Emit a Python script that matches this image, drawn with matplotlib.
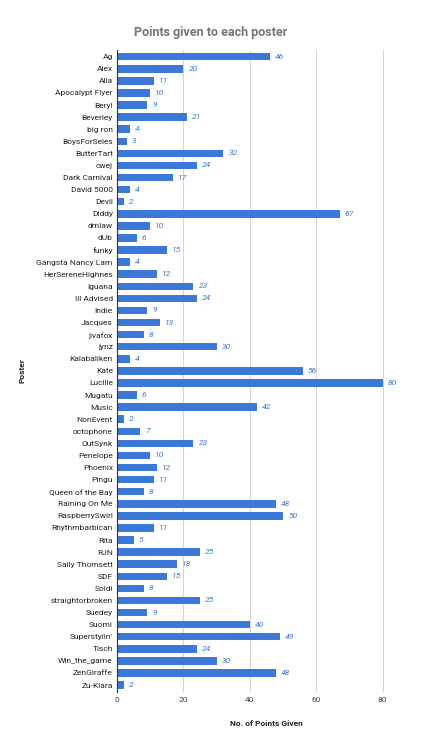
import matplotlib
matplotlib.use("Agg")
import matplotlib.pyplot as plt

posters = ["Ag","Alex","Alla","Apocalypt Flyer","Beryl","Beverley","big ron","BoysForSeles","ButterTart","cwej",
"Dark Carnival","David 5000","Devil","Diddy","dmlaw","dUb","funky","Gangsta Nancy Lam","HerSereneHighnes","Iguana",
"Ill Advised","Indie","Jacques","jivafox","jynz","Kalabaliken","Kate","Lucille","Mugatu","Music","NonEvent","octophone",
"OutSynk","Penelope","Phoenix","Pingu","Queen of the Bay","Raining On Me","RaspberrySwirl","Rhythmbarbican","Rita","RJN",
"Sally Thomsett","SDF","Soldi","straightorbroken","Suedey","Suomi","Superstylin'","Tisch","Win_the_game","ZenGiraffe","Zu-Klara"]
points = [46,20,11,10,9,21,4,3,32,24,17,4,2,67,10,6,15,4,12,23,24,9,13,8,30,4,56,80,6,42,2,7,23,10,12,11,8,48,50,11,5,25,
18,15,8,25,9,40,49,24,30,48,2]

plt.rcParams['font.family'] = ['Roboto', 'DejaVu Sans']
fig = plt.figure(figsize=(4.21, 7.5), dpi=100)
ax = fig.add_axes([0.278, 0.077, 0.71, 0.857])
y = list(range(len(posters)))
ax.barh(y, points, height=0.62, color='#3c78d8', zorder=2)
for yi, v in zip(y, points):
    ax.text(v + 1.5, yi, str(v), va='center', ha='left', fontsize=6, style='italic', color='#3c78d8')
ax.set_yticks(y)
ax.set_yticklabels(posters, fontsize=6, color='#222222')
ax.set_ylim(len(posters) - 0.4, -0.6)
ax.set_xlim(0, 90)
ax.set_xticks([0, 20, 40, 60, 80])
ax.tick_params(axis='x', labelsize=6, colors='#444444', length=0)
ax.tick_params(axis='y', length=0, pad=3)
ax.grid(axis='x', color='#cccccc', linewidth=0.6, zorder=0)
for s in ['top', 'right', 'bottom']:
    ax.spines[s].set_visible(False)
ax.spines['left'].set_color('#333333')
ax.spines['left'].set_linewidth(0.8)
ax.set_xlabel('No. of Points Given', fontsize=6, fontweight='bold', color='#222222', labelpad=12)
ax.set_ylabel('Poster', fontsize=6, fontweight='bold', color='#222222', labelpad=8)
fig.suptitle('Points given to each poster', fontsize=9, fontweight='bold', color='#757575', y=0.965)
fig.savefig('out.png', dpi=100)
